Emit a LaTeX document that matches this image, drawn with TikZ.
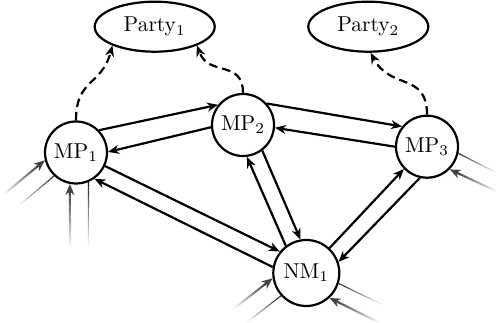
\documentclass[tikz,border=0pt]{standalone}
\usetikzlibrary{arrows.meta,shapes.geometric,calc}
\newcommand\outstub[2]{% #1 start on node, #2 free end
  \foreach \k in {0,...,23}{%
    \pgfmathsetmacro\p{90*(1-(\k+0.5)/24)}%
    \draw[line width=1.1pt,black!\p] ($(#1)!\k/24!(#2)$) -- ($(#1)!{(\k+1)/24}!(#2)$);
  }}
\newcommand\instub[2]{% #1 free end, #2 tip on node
  \coordinate (tmpbase) at ($(#2)!10pt!(#1)$);
  \foreach \k in {0,...,23}{%
    \pgfmathsetmacro\p{75*(\k+0.5)/24}%
    \draw[line width=2pt,black!\p] ($(#1)!\k/24!(tmpbase)$) -- ($(#1)!{(\k+1)/24}!(tmpbase)$);
  }
  \draw[tip,line width=2pt,black!75] ($(#2)!11pt!(#1)$) -- (#2);}
\newcommand\lbl[1]{\scalebox{2.15}{#1}}
\begin{document}
\begin{tikzpicture}[x=1pt,y=1pt,
  tip/.style={-{Stealth[length=11pt,width=9pt,inset=3.5pt]}},
  mp/.style={circle,draw,line width=2.2pt,minimum size=62pt,inner sep=0pt},
  nm/.style={mp,minimum size=66pt},
  party/.style={ellipse,draw,line width=2.2pt,minimum width=120pt,minimum height=50pt,inner sep=0pt},
  conn/.style={tip,line width=2.2pt},
  dashconn/.style={tip,line width=2.2pt,dash pattern=on 8.5pt off 5pt}]
\useasboundingbox (0,0) rectangle (496,323);
\node[mp] (MP1) at (76,170.5) {\lbl{MP$_1$}};
\node[mp] (MP2) at (243,198) {\lbl{MP$_2$}};
\node[mp] (MP3) at (427,176.3) {\lbl{MP$_3$}};
\node[nm] (NM1) at (306.3,50) {\lbl{NM$_1$}};
\node[party] (P1) at (154.7,296.3) {\lbl{Party$_1$}};
\node[party] (P2) at (368.3,296.3) {\lbl{Party$_2$}};
% connectors
\draw[conn] (MP1.44) -- (MP2.141);
\draw[conn] (MP2.184) -- (MP1.1);
\draw[conn] (MP2.42) -- (MP3.141);
\draw[conn] (MP3.180) -- (MP2.-5);
\draw[conn] (MP1.-25) -- (NM1.141);
\draw[conn] (NM1.170) -- (MP1.-55);
\draw[conn] (NM1.127) -- (MP2.-83);
\draw[conn] (MP2.-53.5) -- (NM1.100);
\draw[conn] (NM1.47) -- (MP3.224);
\draw[conn] (MP3.257) -- (NM1.19);
% dashed
\draw[dashconn] (MP1.north) to[out=90,in=-105,looseness=1.3] (P1.204);
\draw[dashconn] (MP2.north) to[out=90,in=-70,looseness=1.3] (P1.336);
\draw[dashconn] (MP3.north) to[out=90,in=-62,looseness=1.3] (P2.275);
% stubs
\coordinate (a1) at (3,128);
\coordinate (b1) at (17,116);
\coordinate (c1) at (70.1,75);
\coordinate (d1) at (88.3,75);
\coordinate (a3) at (497,131.5);
\coordinate (b3) at (497,150);
\coordinate (a4) at (234,14.5);
\coordinate (b4) at (246,0);
\coordinate (a5) at (380,0);
\coordinate (b5) at (383,18);
\instub{a1}{MP1.194}
\outstub{MP1.227}{b1}
\instub{c1}{MP1.259}
\outstub{MP1.293.4}{d1}
\instub{a3}{MP3.-45}
\outstub{MP3.-12}{b3}
\instub{a4}{NM1.189}
\outstub{NM1.222}{b4}
\instub{a5}{NM1.-47}
\outstub{NM1.-18}{b5}
\end{tikzpicture}
\end{document}
